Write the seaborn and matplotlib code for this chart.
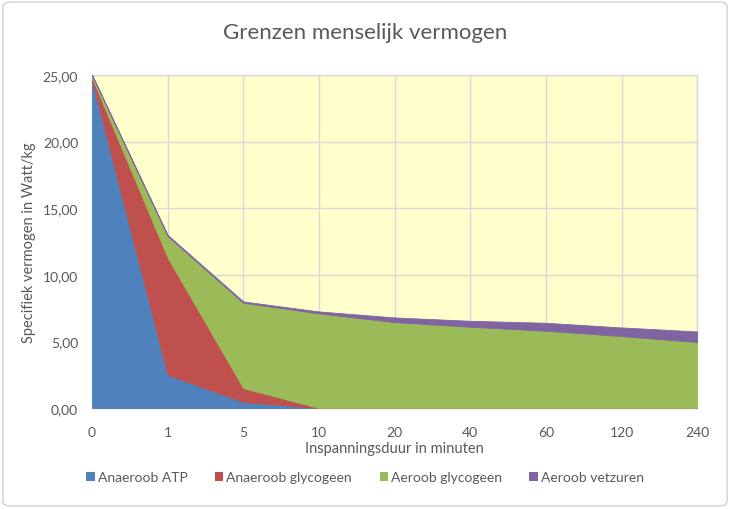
import numpy as np
import matplotlib
matplotlib.use("Agg")
import matplotlib.pyplot as plt
from matplotlib.patches import FancyBboxPatch, Patch
import seaborn as sns

categories = ["0", "1", "5", "10", "20", "40", "60", "120", "240"]
anaeroob_atp = [24.6, 2.5, 0.45, 0.0, 0.0, 0.0, 0.0, 0.0, 0.0]
anaeroob_glycogeen = [0.2, 8.8, 1.05, 0.0, 0.0, 0.0, 0.0, 0.0, 0.0]
aeroob_glycogeen = [0.2, 1.6, 6.4, 7.1, 6.45, 6.1, 5.8, 5.4, 4.95]
aeroob_vetzuren = [0.0, 0.1, 0.1, 0.15, 0.35, 0.45, 0.6, 0.65, 0.8]
series_names = ["Anaeroob ATP", "Anaeroob glycogeen", "Aeroob glycogeen", "Aeroob vetzuren"]
colors = ["#4F81BD", "#C0504D", "#9BBB59", "#8064A2"]
y_ticks = [0, 5, 10, 15, 20, 25]

sns.set_theme(style="white")
plt.rcParams["font.family"] = ["Lato", "DejaVu Sans"]

fig = plt.figure(figsize=(7.3, 5.1), dpi=100)
fig.patch.set_facecolor("white")
border = FancyBboxPatch((0.004, 0.006), 0.992, 0.988, boxstyle="round,pad=0,rounding_size=0.01",
                        transform=fig.transFigure, facecolor="none", edgecolor="#D0D0D0", lw=1.0,
                        zorder=-10)
fig.patches.append(border)

ax = fig.add_axes([0.126, 0.198, 0.829, 0.653])
ax.set_facecolor("#FFFFCC")
x = np.arange(len(categories))
polys = ax.stackplot(x, anaeroob_atp, anaeroob_glycogeen, aeroob_glycogeen, aeroob_vetzuren,
                     colors=colors, labels=series_names, zorder=3)
for p, c in zip(polys, colors):
    p.set_edgecolor(c)
    p.set_linewidth(0.6)
ax.set_xlim(0, len(categories) - 1)
ax.set_ylim(0, 25)
ax.set_xticks(x)
ax.set_xticklabels(categories)
ax.set_yticks(y_ticks)
ax.set_yticklabels([f"{v:.2f}".replace(".", ",") for v in y_ticks])
ax.grid(True, color="#D9D9D9", lw=1.0, zorder=1)
ax.set_axisbelow(True)
for s in ax.spines.values():
    s.set_color("#D9D9D9")
    s.set_linewidth(1.0)
ax.spines["bottom"].set_color("#BFBFBF")
ax.tick_params(axis="both", length=0, labelsize=10, colors="#595959")
ax.tick_params(axis="x", pad=13)
ax.tick_params(axis="y", pad=10)
ax.set_xlabel("Inspanningsduur in minuten", fontsize=10.5, color="#595959", labelpad=2)
ax.set_ylabel("Specifiek vermogen in Watt/kg", fontsize=10.5, color="#595959", labelpad=5)
fig.text(0.5, 0.935, "Grenzen menselijk vermogen", ha="center", va="center", fontsize=16, color="#595959")

handles = [Patch(facecolor=c, edgecolor="none") for c in colors]
fig.legend(handles, series_names, loc="center", bbox_to_anchor=(0.5, 0.062), ncol=4, frameon=False,
           fontsize=10, handlelength=0.6, handleheight=0.6, handletextpad=0.2, columnspacing=2.0,
           labelcolor="#595959")

fig.savefig("out.png", dpi=100)
